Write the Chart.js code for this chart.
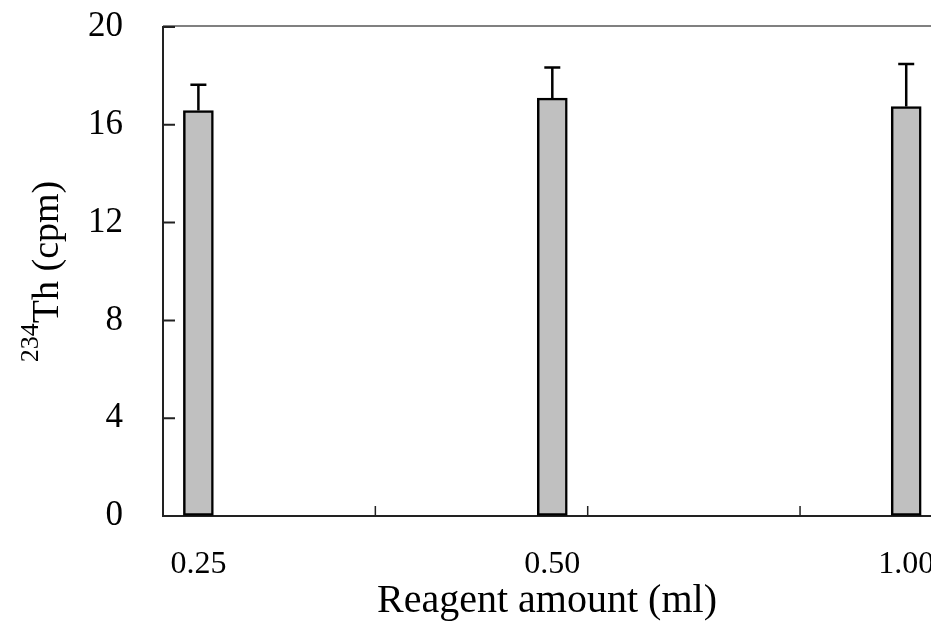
<!DOCTYPE html>
<html>
<head>
<meta charset="utf-8">
<script src="https://cdn.jsdelivr.net/npm/chart.js@4.4.0/dist/chart.umd.min.js"></script>
<style>
  html, body { margin: 0; padding: 0; background: #fff; }
  #wrap { width: 931px; height: 629px; }
</style>
</head>
<body>
<div id="wrap"><canvas id="barchart"></canvas></div>
<script>
// reagent amounts (ml) and measured 234Th activity (cpm) with upper error
const amounts = ['0.25', '0.50', '1.00'];
const counts = [16.58, 17.09, 16.75];
const errors = [1.06, 1.25, 1.74];
const yTicks = [0, 4, 8, 12, 16, 20];
const minorTicks = [0.5, 1.1, 1.7];

const serif = '"Liberation Serif", "Times New Roman", serif';

const extras = {
  id: 'extras',
  afterDatasetsDraw(chart) {
    const ctx = chart.ctx;
    const y = chart.scales.y;
    const meta = chart.getDatasetMeta(0);
    ctx.save();
    ctx.strokeStyle = '#000';
    ctx.lineWidth = 2.5;
    meta.data.forEach((bar, i) => {
      const top = y.getPixelForValue(counts[i] + errors[i]);
      ctx.beginPath();
      ctx.moveTo(bar.x, bar.y);
      ctx.lineTo(bar.x, top);
      ctx.moveTo(bar.x - 8, top);
      ctx.lineTo(bar.x + 8, top);
      ctx.stroke();
    });
    ctx.restore();
  },
  afterDraw(chart) {
    const ctx = chart.ctx;
    const area = chart.chartArea;
    const x = chart.scales.x;
    const y = chart.scales.y;
    ctx.save();

    // top frame line
    ctx.strokeStyle = '#808080';
    ctx.lineWidth = 2;
    ctx.beginPath();
    ctx.moveTo(area.left, area.top - 1);
    ctx.lineTo(area.right, area.top - 1);
    ctx.stroke();

    // inward ticks
    ctx.strokeStyle = '#222';
    ctx.lineWidth = 2;
    ctx.beginPath();
    yTicks.forEach(v => {
      const py = y.getPixelForValue(v);
      ctx.moveTo(area.left, py);
      ctx.lineTo(area.left + 12, py);
    });
    ctx.stroke();
    ctx.lineWidth = 1.5;
    ctx.beginPath();
    minorTicks.forEach(v => {
      const px = x.getPixelForValue(v);
      ctx.moveTo(px, area.bottom);
      ctx.lineTo(px, area.bottom - 10);
    });
    ctx.stroke();

    // y title with superscript
    ctx.translate(58, (area.top + area.bottom) / 2);
    ctx.rotate(-Math.PI / 2);
    ctx.fillStyle = '#000';
    ctx.textBaseline = 'alphabetic';
    ctx.textAlign = 'left';
    const sup = '234', main = 'Th (cpm)';
    ctx.font = '26px ' + serif;
    const wSup = ctx.measureText(sup).width;
    ctx.font = '38px ' + serif;
    const wMain = ctx.measureText(main).width;
    const start = -(wSup + wMain) / 2;
    ctx.font = '26px ' + serif;
    ctx.fillText(sup, start, -20);
    ctx.font = '38px ' + serif;
    ctx.fillText(main, start + wSup, 0);
    ctx.restore();
  }
};

new Chart(document.getElementById('barchart'), {
  type: 'bar',
  data: {
    datasets: [{
      data: counts.map((v, i) => ({ x: i, y: v })),
      backgroundColor: '#c0c0c0',
      borderColor: '#000',
      borderWidth: 2.5,
      borderSkipped: false,
      barThickness: 30
    }]
  },
  options: {
    responsive: true,
    maintainAspectRatio: false,
    animation: false,
    layout: { padding: { top: 27, right: 0, left: 0, bottom: 0 } },
    plugins: { legend: { display: false }, tooltip: { enabled: false } },
    scales: {
      x: {
        type: 'linear',
        offset: false,
        bounds: 'data',
        min: -0.1,
        max: 2.07,
        grid: { drawOnChartArea: false, drawTicks: false },
        border: { color: '#222', width: 2 },
        afterBuildTicks(scale) {
          scale.ticks = amounts.map((_, i) => ({ value: i }));
        },
        ticks: {
          autoSkip: false,
          maxRotation: 0,
          padding: 29,
          color: '#000',
          font: { family: serif, size: 32 },
          callback: v => amounts[v]
        },
        title: {
          display: true,
          text: 'Reagent amount (ml)',
          color: '#000',
          font: { family: serif, size: 40 },
          padding: { top: 0, bottom: 4 }
        },
        afterFit(scale) {
          scale.height = 113;
          scale.paddingLeft = 0;
          scale.paddingRight = 0;
        }
      },
      y: {
        min: 0,
        max: 20,
        grid: { drawOnChartArea: false, drawTicks: false },
        border: { color: '#222', width: 2 },
        ticks: {
          stepSize: 4,
          padding: 40,
          color: '#000',
          font: { family: serif, size: 35 }
        },
        afterFit(scale) {
          scale.width = 163;
          scale.paddingTop = 0;
          scale.paddingBottom = 0;
        }
      }
    }
  },
  plugins: [extras]
});
</script>
</body>
</html>
